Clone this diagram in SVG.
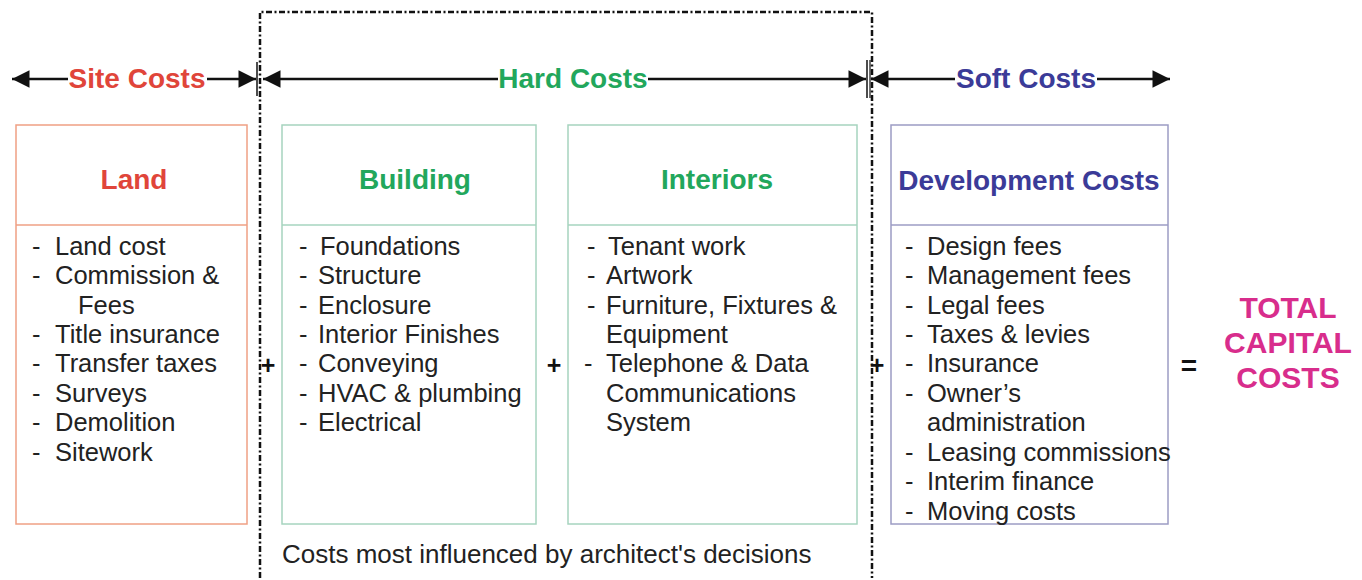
<svg xmlns="http://www.w3.org/2000/svg" width="1362" height="580" viewBox="0 0 1362 580">
<defs>
<marker id="ah" viewBox="0 0 10 10" refX="10" refY="5" markerWidth="8" markerHeight="7" markerUnits="strokeWidth" orient="auto-start-reverse">
<path d="M0,0 L10,5 L0,10 Z" fill="#111"/>
</marker>
<style>
text{font-family:"Liberation Sans",Arial,sans-serif}
.t{font-size:28px;font-weight:bold;text-anchor:middle}
.b{font-size:25.5px;fill:#222}
.red{fill:#e0453a}
.grn{fill:#22a75c}
.blu{fill:#3b3b98}
.mag{fill:#d82d8c;font-size:30px;font-weight:bold;text-anchor:middle}
.ln{stroke:#111;stroke-width:2.5;fill:none}
.box{fill:#fff;stroke-width:1.5}
</style>
</defs>
<rect width="1362" height="580" fill="#fff"/>

<g id="influence-zone">
<path d="M260,578 L260,12 L872,12 L872,578" fill="none" stroke="#111" stroke-width="2.5" stroke-dasharray="6 2.5 2 2.5"/>
<text class="b" x="282" y="563" style="font-size:26px">Costs most influenced by architect's decisions</text>
</g>

<g id="connectors">
<line class="ln" x1="68" y1="79" x2="12" y2="79" marker-end="url(#ah)"/>
<line class="ln" x1="207" y1="79" x2="256" y2="79" marker-end="url(#ah)"/>
<line class="ln" x1="498" y1="79" x2="263" y2="79" marker-end="url(#ah)"/>
<line class="ln" x1="648" y1="79" x2="866" y2="79" marker-end="url(#ah)"/>
<line class="ln" x1="955" y1="79" x2="871" y2="79" marker-end="url(#ah)"/>
<line class="ln" x1="1097" y1="79" x2="1170" y2="79" marker-end="url(#ah)"/>
<line x1="257" y1="62" x2="257" y2="96" stroke="#111" stroke-width="1.5"/>
<line x1="867" y1="60" x2="867" y2="98" stroke="#111" stroke-width="1.5"/>
<line x1="870" y1="60" x2="870" y2="98" stroke="#111" stroke-width="1.2"/>
</g>

<g id="site-costs-label"><text class="t red" x="137" y="88">Site Costs</text></g>
<g id="hard-costs-label"><text class="t grn" x="573" y="88">Hard Costs</text></g>
<g id="soft-costs-label"><text class="t blu" x="1026" y="88">Soft Costs</text></g>

<g id="land">
<rect class="box" x="16" y="125" width="231" height="399" stroke="#efa084"/>
<line x1="16" y1="225" x2="247" y2="225" stroke="#efa084" stroke-width="1.5"/>
<text class="t red" x="134" y="189">Land</text>
<g class="b">
<text x="32" y="255">-</text><text x="55" y="255">Land cost</text>
<text x="32" y="284">-</text><text x="55" y="284">Commission &amp;</text>
<text x="78" y="314">Fees</text>
<text x="32" y="343">-</text><text x="55" y="343">Title insurance</text>
<text x="32" y="372">-</text><text x="55" y="372">Transfer taxes</text>
<text x="32" y="402">-</text><text x="55" y="402">Surveys</text>
<text x="32" y="431">-</text><text x="55" y="431">Demolition</text>
<text x="32" y="461">-</text><text x="55" y="461">Sitework</text>
</g>
</g>

<g id="building">
<rect class="box" x="282" y="125" width="254" height="399" stroke="#a6d4bf"/>
<line x1="282" y1="225" x2="536" y2="225" stroke="#a6d4bf" stroke-width="1.5"/>
<text class="t grn" x="415" y="189">Building</text>
<g class="b">
<text x="299" y="255">-</text><text x="320" y="255">Foundations</text>
<text x="299" y="284">-</text><text x="318" y="284">Structure</text>
<text x="299" y="314">-</text><text x="318" y="314">Enclosure</text>
<text x="299" y="343">-</text><text x="318" y="343">Interior Finishes</text>
<text x="299" y="372">-</text><text x="318" y="372">Conveying</text>
<text x="299" y="402">-</text><text x="318" y="402">HVAC &amp; plumbing</text>
<text x="299" y="431">-</text><text x="318" y="431">Electrical</text>
</g>
</g>

<g id="interiors">
<rect class="box" x="568" y="125" width="289" height="399" stroke="#a6d4bf"/>
<line x1="568" y1="225" x2="857" y2="225" stroke="#a6d4bf" stroke-width="1.5"/>
<text class="t grn" x="717" y="189">Interiors</text>
<g class="b">
<text x="587" y="255">-</text><text x="608" y="255">Tenant work</text>
<text x="587" y="284">-</text><text x="606" y="284">Artwork</text>
<text x="587" y="314">-</text><text x="606" y="314">Furniture, Fixtures &amp;</text>
<text x="606" y="343">Equipment</text>
<text x="584" y="372">-</text><text x="606" y="372">Telephone &amp; Data</text>
<text x="606" y="402">Communications</text>
<text x="606" y="431">System</text>
</g>
</g>

<g id="development-costs">
<rect class="box" x="891" y="125" width="277" height="399" stroke="#9c9cc4"/>
<line x1="891" y1="225" x2="1168" y2="225" stroke="#9c9cc4" stroke-width="1.5"/>
<text class="t blu" x="1029" y="190">Development Costs</text>
<g class="b">
<text x="905" y="255">-</text><text x="927" y="255">Design fees</text>
<text x="905" y="284">-</text><text x="927" y="284">Management fees</text>
<text x="905" y="314">-</text><text x="927" y="314">Legal fees</text>
<text x="905" y="343">-</text><text x="927" y="343">Taxes &amp; levies</text>
<text x="905" y="372">-</text><text x="927" y="372">Insurance</text>
<text x="905" y="402">-</text><text x="927" y="402">Owner’s</text>
<text x="927" y="431">administration</text>
<text x="905" y="461">-</text><text x="927" y="461">Leasing commissions</text>
<text x="905" y="490">-</text><text x="927" y="490">Interim finance</text>
<text x="905" y="520">-</text><text x="927" y="520">Moving costs</text>
</g>
</g>

<g id="operators" style="font-family:'Liberation Sans',Arial,sans-serif;font-weight:bold;font-size:25px;fill:#111;text-anchor:middle">
<text x="268" y="374">+</text>
<text x="554" y="374">+</text>
<text x="877" y="374">+</text>
<text x="1189" y="375" style="font-size:28px">=</text>
</g>

<g id="total-capital-costs">
<text class="mag" x="1288" y="318">TOTAL</text>
<text class="mag" x="1288" y="353">CAPITAL</text>
<text class="mag" x="1288" y="388">COSTS</text>
</g>
</svg>
